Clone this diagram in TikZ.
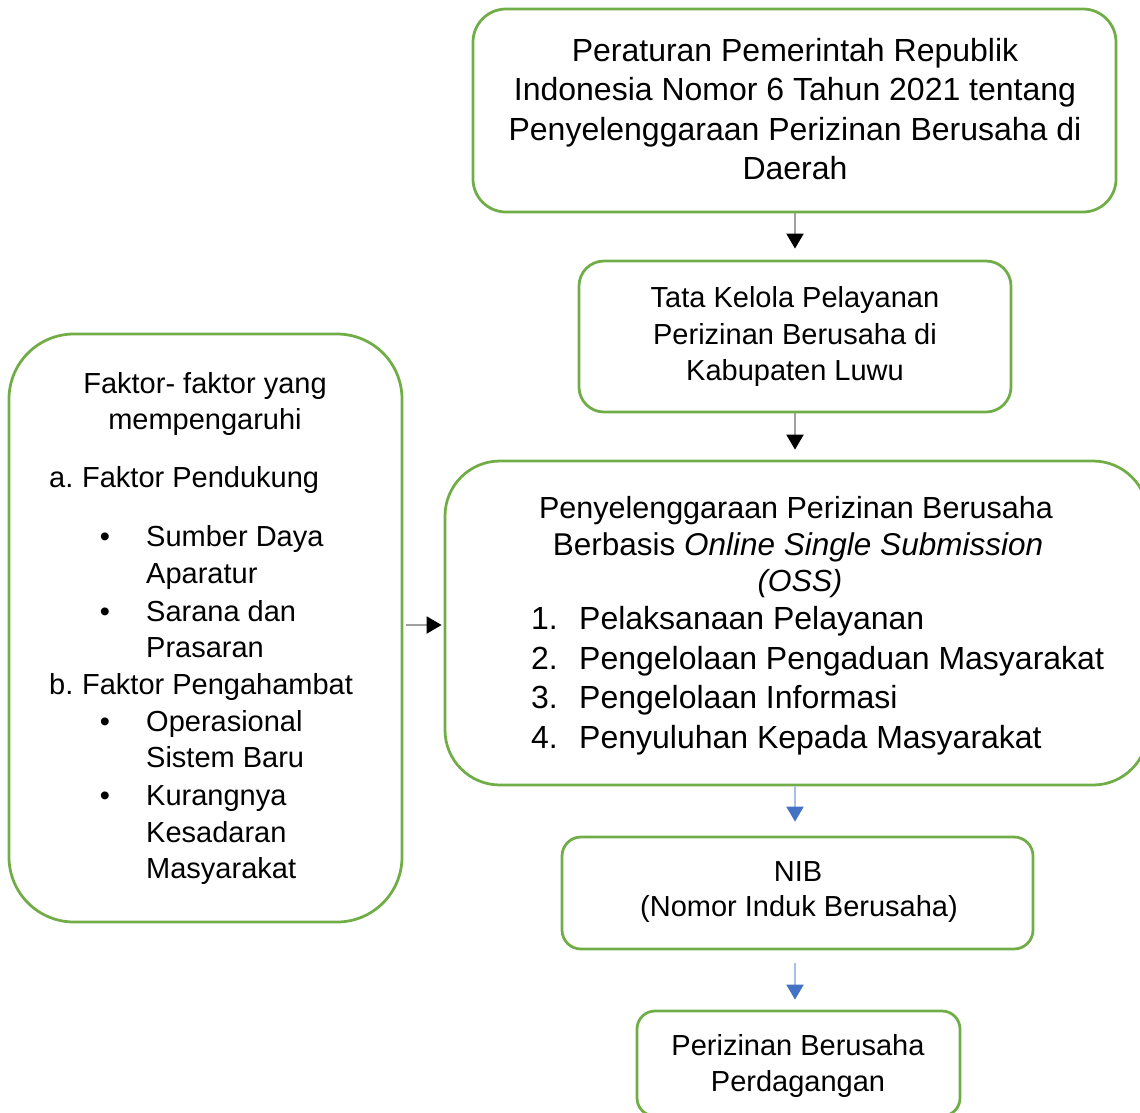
\documentclass[tikz,border=0pt]{standalone}
\usepackage{fontspec}
\setmainfont{Liberation Sans}
\usetikzlibrary{arrows.meta}
\definecolor{boxgreen}{HTML}{70AD47}
\definecolor{tipblue}{HTML}{4472C4}
\definecolor{shaftblue}{HTML}{A9BFE6}
\definecolor{shaftgray}{HTML}{A0A0A0}
\begin{document}
\begin{tikzpicture}[x=1pt,y=-1pt,
  box/.style={draw=boxgreen,line width=2.75pt,rectangle,inner sep=0pt,fill=none},
  txt/.style={inner sep=0pt,anchor=base},
  txl/.style={inner sep=0pt,anchor=base west},
  fa/.style={font=\fontsize{29pt}{36.5pt}\selectfont},
  fb/.style={font=\fontsize{30.5pt}{37pt}\selectfont},
  fc/.style={font=\fontsize{32pt}{39.5pt}\selectfont},
  garr/.style={draw=shaftgray,line width=2pt,-{Triangle[width=17pt,length=15pt,color=black]}},
  barr/.style={draw=shaftblue,line width=2pt,-{Triangle[width=17pt,length=15pt,color=tipblue]}}]
\path[use as bounding box] (0,0) rectangle (1140,1112);
\clip (0,0) rectangle (1140,1112);

% boxes
\node[box,rounded corners=33pt,minimum width=643pt,minimum height=203pt] (top) at (794.5,110.5) {};
\node[box,rounded corners=25pt,minimum width=432pt,minimum height=151pt] (tata) at (795,336.5) {};
\node[box,rounded corners=65pt,minimum width=393pt,minimum height=588pt] (left) at (205.5,628) {};
\node[box,rounded corners=55pt,minimum width=703pt,minimum height=324pt] (oss) at (796.5,623) {};
\node[box,rounded corners=19pt,minimum width=471pt,minimum height=112pt] (nib) at (797.5,893) {};
\node[box,rounded corners=18pt,minimum width=323pt,minimum height=105pt] (perz) at (798.5,1063.5) {};

% top box text
\node[txt,fc] (t1) at (795,61) {Peraturan Pemerintah Republik};
\node[txt,fc] (t2) at (795,100) {Indonesia Nomor 6 Tahun 2021 tentang};
\node[txt,fc] (t3) at (795,140) {Penyelenggaraan Perizinan Berusaha di};
\node[txt,fc] (t4) at (795,179) {Daerah};

% tata box text
\node[txt,fa] (k1) at (795,307) {Tata Kelola Pelayanan};
\node[txt,fa] (k2) at (795,344) {Perizinan Berusaha di};
\node[txt,fa] (k3) at (795,380) {Kabupaten Luwu};

% left box text
\node[txt,fa] (f1) at (205,393) {Faktor- faktor yang};
\node[txt,fa] (f2) at (205,429) {mempengaruhi};
\node[txl,fa] (f3) at (49,487) {a.\hspace{-2pt} Faktor Pendukung};
\node[txt,fa] (b1) at (105,546) {•};
\node[txl,fa] (f4) at (146,546) {Sumber Daya};
\node[txl,fa] (f5) at (146,583) {Aparatur};
\node[txt,fa] (b2) at (105,621) {•};
\node[txl,fa] (f6) at (146,621) {Sarana dan};
\node[txl,fa] (f7) at (146,657) {Prasaran};
\node[txl,fa] (f8) at (49,694) {b.\hspace{-2pt} Faktor Pengahambat};
\node[txt,fa] (b3) at (105,731) {•};
\node[txl,fa] (f9) at (146,731) {Operasional};
\node[txl,fa] (f10) at (146,767) {Sistem Baru};
\node[txt,fa] (b4) at (105,805) {•};
\node[txl,fa] (f11) at (146,805) {Kurangnya};
\node[txl,fa] (f12) at (146,842) {Kesadaran};
\node[txl,fa] (f13) at (146,878) {Masyarakat};

% oss box text
\node[txt,fb] (o1) at (796,518) {Penyelenggaraan Perizinan Berusaha};
\node[txt,font=\fontsize{31.5pt}{37pt}\selectfont] (o2) at (798,555) {Berbasis \textit{Online Single Submission}};
\node[txt,fb] (o3) at (800,591) {\textit{(OSS)}};
\node[txl,fc] (n1) at (531,629) {1.};
\node[txl,fc] (l1) at (579,629) {Pelaksanaan Pelayanan};
\node[txl,fc] (n2) at (531,669) {2.};
\node[txl,fc] (l2) at (579,669) {Pengelolaan Pengaduan Masyarakat};
\node[txl,fc] (n3) at (531,708) {3.};
\node[txl,fc] (l3) at (579,708) {Pengelolaan Informasi};
\node[txl,fc] (n4) at (531,748) {4.};
\node[txl,fc] (l4) at (579,748) {Penyuluhan Kepada Masyarakat};

% nib text
\node[txt,fa] (m1) at (798,881) {NIB};
\node[txt,fa] (m2) at (799,916) {(Nomor Induk Berusaha)};

% perizinan text
\node[txt,fa] (p1) at (798,1055) {Perizinan Berusaha};
\node[txt,fa] (p2) at (798,1091) {Perdagangan};

% connectors
\draw[garr,shorten >=11pt] ([xshift=0.5pt]top.south) -- ([xshift=0.5pt]top.south |- tata.north);
\draw[garr,shorten >=10pt] (tata.south) -- (tata.south |- oss.north);
\draw[garr,shorten <=3pt,shorten >=2pt] ([yshift=3pt]left.east) -- ([yshift=3pt]left.east -| oss.west);
\draw[barr,shorten >=14pt] ([xshift=-1.5pt]oss.south) -- ([xshift=-1.5pt]oss.south |- nib.north);
\draw[barr,shorten <=13pt,shorten >=10pt] ([xshift=-2.5pt]nib.south) -- ([xshift=-2.5pt]nib.south |- perz.north);
\end{tikzpicture}
\end{document}
